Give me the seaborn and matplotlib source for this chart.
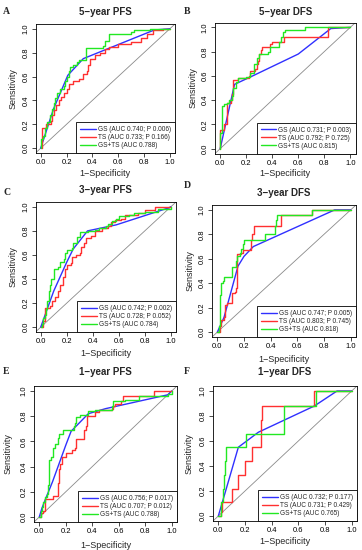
import numpy as np
import pandas as pd
import matplotlib
matplotlib.use("Agg")
import matplotlib.pyplot as plt
import seaborn as sns

# ---------------- data ----------------
titles = ["5\u2212year PFS", "5\u2212year DFS", "3\u2212year PFS",
          "3\u2212year DFS", "1\u2212year PFS", "1\u2212year DFS"]
letters = ["A", "B", "C", "D", "E", "F"]
series_names = ["GS", "TS", "GS+TS"]

labels_a = ["GS (AUC 0.740; P 0.006)", "TS (AUC 0.733; P 0.166)", "GS+TS (AUC 0.788)"]
labels_b = ["GS (AUC 0.731; P 0.003)", "TS (AUC 0.792; P 0.725)", "GS+TS (AUC 0.815)"]
labels_c = ["GS (AUC 0.742; P 0.002)", "TS (AUC 0.728; P 0.052)", "GS+TS (AUC 0.784)"]
labels_d = ["GS (AUC 0.747; P 0.005)", "TS (AUC 0.803; P 0.745)", "GS+TS (AUC 0.818)"]
labels_e = ["GS (AUC 0.756; P 0.017)", "TS (AUC 0.707; P 0.012)", "GS+TS (AUC 0.788)"]
labels_f = ["GS (AUC 0.732; P 0.177)", "TS (AUC 0.731; P 0.429)", "GS+TS (AUC 0.765)"]

# Panel A
a_gs_x = [0, 0.10, 0.21, 0.33, 0.88, 1.0]
a_gs_y = [0, 0.33, 0.61, 0.75, 0.99, 1.0]
a_ts_x = [0, 0.01, 0.04, 0.08, 0.09, 0.10, 0.12, 0.14, 0.16, 0.18, 0.20, 0.22, 0.25, 0.30, 0.33,
          0.36, 0.37, 0.38, 0.42, 0.46, 0.50, 0.53, 0.60, 0.70, 0.78, 0.82, 0.87, 0.95, 1.0]
a_ts_y = [0, 0.17, 0.20, 0.23, 0.28, 0.32, 0.36, 0.40, 0.43, 0.46, 0.50, 0.54, 0.56, 0.58, 0.62,
          0.65, 0.70, 0.75, 0.78, 0.80, 0.83, 0.85, 0.87, 0.89, 0.92, 0.96, 0.99, 1.0, 1.0]
a_gt_x = [0, 0, 0.02, 0.03, 0.05, 0.07, 0.09, 0.10, 0.11, 0.13, 0.15, 0.18, 0.19, 0.20, 0.22,
          0.23, 0.25, 0.28, 0.30, 0.35, 0.48, 0.50, 0.53, 0.70, 0.72, 0.85, 1.0]
a_gt_y = [0, 0.08, 0.10, 0.17, 0.22, 0.28, 0.33, 0.38, 0.42, 0.46, 0.50, 0.52, 0.56, 0.60, 0.65,
          0.68, 0.70, 0.72, 0.74, 0.84, 0.86, 0.90, 0.96, 0.97, 0.99, 1.0, 1.0]

# Panel B
b_gs_x = [0, 0.11, 0.25, 0.60, 0.85, 1.0]
b_gs_y = [0, 0.53, 0.60, 0.78, 0.99, 1.0]
b_ts_x = [0, 0.0, 0.03, 0.05, 0.08, 0.09, 0.10, 0.14, 0.22, 0.23, 0.27, 0.28, 0.29, 0.30,
          0.31, 0.32, 0.38, 0.40, 0.48, 0.49, 0.83, 1.0]
b_ts_y = [0, 0.15, 0.20, 0.38, 0.40, 0.45, 0.57, 0.58, 0.60, 0.64, 0.66, 0.70, 0.72, 0.78,
          0.81, 0.84, 0.86, 0.88, 0.88, 0.92, 1.0, 1.0]
b_gt_x = [0, 0.0, 0.01, 0.03, 0.05, 0.07, 0.09, 0.10, 0.12, 0.14, 0.20, 0.23, 0.26, 0.28,
          0.30, 0.37, 0.38, 0.45, 0.47, 0.48, 0.50, 0.65, 1.0]
b_gt_y = [0, 0.13, 0.35, 0.37, 0.38, 0.40, 0.43, 0.50, 0.55, 0.58, 0.59, 0.62, 0.70, 0.75,
          0.78, 0.80, 0.84, 0.88, 0.92, 0.96, 0.98, 1.0, 1.0]

# Panel C
c_gs_x = [0, 0.10, 0.20, 0.25, 0.36, 0.58, 0.98, 1.0]
c_gs_y = [0, 0.30, 0.54, 0.65, 0.80, 0.85, 0.99, 1.0]
c_ts_x = [0, 0.02, 0.03, 0.07, 0.09, 0.11, 0.13, 0.15, 0.17, 0.19, 0.20, 0.23, 0.24, 0.27,
          0.30, 0.31, 0.33, 0.35, 0.39, 0.42, 0.47, 0.52, 0.54, 0.57, 0.62, 0.65, 0.75, 0.80,
          0.88, 1.0]
c_ts_y = [0, 0.05, 0.16, 0.18, 0.22, 0.25, 0.30, 0.35, 0.42, 0.48, 0.52, 0.53, 0.58, 0.60,
          0.62, 0.67, 0.70, 0.74, 0.76, 0.80, 0.82, 0.84, 0.87, 0.89, 0.90, 0.93, 0.95, 0.97,
          1.0, 1.0]
c_gt_x = [0, 0.01, 0.02, 0.03, 0.04, 0.05, 0.06, 0.07, 0.08, 0.10, 0.13, 0.15, 0.18, 0.19,
          0.20, 0.24, 0.25, 0.28, 0.30, 0.36, 0.42, 0.45, 0.50, 0.52, 0.55, 0.58, 0.60, 0.68,
          0.72, 0.80, 0.90, 1.0]
c_gt_y = [0, 0.03, 0.08, 0.10, 0.15, 0.22, 0.30, 0.35, 0.40, 0.48, 0.50, 0.54, 0.57, 0.62,
          0.64, 0.66, 0.70, 0.75, 0.79, 0.80, 0.81, 0.82, 0.84, 0.86, 0.88, 0.90, 0.92, 0.93,
          0.95, 0.96, 0.98, 1.0]

# Panel D
d_gs_x = [0, 0.05, 0.10, 0.155, 0.20, 0.27, 0.88, 1.0]
d_gs_y = [0, 0.12, 0.32, 0.54, 0.62, 0.70, 1.0, 1.0]
d_ts_x = [0, 0.02, 0.03, 0.05, 0.06, 0.07, 0.10, 0.11, 0.13, 0.14, 0.145, 0.15, 0.18, 0.19,
          0.24, 0.25, 0.26, 0.275, 0.48, 0.71, 1.0]
d_ts_y = [0, 0.05, 0.10, 0.12, 0.22, 0.24, 0.24, 0.32, 0.33, 0.36, 0.56, 0.64, 0.65, 0.67,
          0.67, 0.75, 0.80, 0.87, 0.96, 1.0, 1.0]
d_gt_x = [0, 0.01, 0.02, 0.03, 0.04, 0.05, 0.11, 0.14, 0.15, 0.17, 0.18, 0.19, 0.20, 0.36,
          0.43, 0.44, 0.45, 0.71, 1.0]
d_gt_y = [0, 0.05, 0.30, 0.40, 0.42, 0.45, 0.53, 0.58, 0.62, 0.65, 0.68, 0.72, 0.75, 0.80,
          0.87, 0.92, 0.96, 1.0, 1.0]

# Panel E
e_gs_x = [0, 0.02, 0.05, 0.10, 0.20, 0.24, 0.37, 0.50, 0.97, 1.0]
e_gs_y = [0, 0.07, 0.15, 0.28, 0.57, 0.68, 0.82, 0.86, 0.97, 1.0]
e_ts_x = [0, 0.01, 0.03, 0.04, 0.10, 0.14, 0.15, 0.16, 0.17, 0.20, 0.25, 0.27, 0.28, 0.34,
          0.35, 0.36, 0.42, 0.45, 0.55, 0.56, 0.57, 0.62, 0.63, 0.87, 1.0]
e_ts_y = [0, 0.03, 0.05, 0.14, 0.17, 0.27, 0.38, 0.42, 0.48, 0.51, 0.53, 0.55, 0.62, 0.69,
          0.72, 0.80, 0.83, 0.85, 0.86, 0.88, 0.90, 0.92, 0.96, 1.0, 1.0]
e_gt_x = [0, 0.01, 0.02, 0.03, 0.04, 0.06, 0.065, 0.07, 0.075, 0.09, 0.10, 0.12, 0.14, 0.15,
          0.18, 0.26, 0.27, 0.28, 0.31, 0.37, 0.42, 0.55, 0.56, 0.65, 0.75, 0.97, 1.0]
e_gt_y = [0, 0.05, 0.08, 0.12, 0.16, 0.18, 0.25, 0.35, 0.45, 0.48, 0.55, 0.58, 0.63, 0.66,
          0.69, 0.72, 0.75, 0.79, 0.81, 0.84, 0.85, 0.88, 0.92, 0.93, 0.96, 0.98, 1.0]

# Panel F
f_gs_x = [0, 0.15, 0.30, 0.72, 0.89, 1.0]
f_gs_y = [0, 0.55, 0.67, 0.88, 1.0, 1.0]
f_ts_x = [0, 0.02, 0.03, 0.10, 0.15, 0.20, 0.25, 0.32, 0.33, 0.72, 1.0]
f_ts_y = [0, 0.03, 0.11, 0.22, 0.33, 0.44, 0.55, 0.77, 0.88, 1.0, 1.0]
f_gt_x = [0, 0.02, 0.035, 0.04, 0.05, 0.06, 0.21, 0.49, 0.73, 1.0]
f_gt_y = [0, 0.11, 0.22, 0.33, 0.44, 0.55, 0.66, 0.88, 1.0, 1.0]

panels = [
    (a_gs_x, a_gs_y, a_ts_x, a_ts_y, a_gt_x, a_gt_y, labels_a),
    (b_gs_x, b_gs_y, b_ts_x, b_ts_y, b_gt_x, b_gt_y, labels_b),
    (c_gs_x, c_gs_y, c_ts_x, c_ts_y, c_gt_x, c_gt_y, labels_c),
    (d_gs_x, d_gs_y, d_ts_x, d_ts_y, d_gt_x, d_gt_y, labels_d),
    (e_gs_x, e_gs_y, e_ts_x, e_ts_y, e_gt_x, e_gt_y, labels_e),
    (f_gs_x, f_gs_y, f_ts_x, f_ts_y, f_gt_x, f_gt_y, labels_f),
]

# ---------------- layout (pixels) ----------------
W, H = 362, 550
# axes boxes: left, top, right, bottom
boxes = [(35.5, 24, 175, 153), (215, 22.5, 355.5, 153.5),
         (35.5, 202, 176, 332), (212, 205, 356, 337),
         (34, 386, 177, 522), (213, 386, 357, 521)]
title_y = [12, 12, 190, 193, 372, 372]
letter_pos = [(3, 12), (184, 12), (3, 193), (184, 186), (3, 372), (184, 372)]
xlabel_y = [174, 174, 354, 360, 545, 541]
ylabel_x = [13, 193, 13, 190, 8, 189]

colors = ["#3030ff", "#ff3030", "#22e822"]

sns.set_style("ticks")
plt.rcParams["font.family"] = ["Liberation Sans", "DejaVu Sans"]

fig = plt.figure(figsize=(W / 100, H / 100), dpi=100)

ticks = [0.0, 0.2, 0.4, 0.6, 0.8, 1.0]
tick_labels = ["0.0", "0.2", "0.4", "0.6", "0.8", "1.0"]

for i, (gx, gy, tx, ty, cx, cy, labs) in enumerate(panels):
    l, t, r, b = boxes[i]
    ax = fig.add_axes([l / W, 1 - b / H, (r - l) / W, (b - t) / H])
    ax.plot([-0.04, 1.04], [-0.04, 1.04], color="#8a8a8a", lw=0.6, zorder=1)
    df_gs = pd.DataFrame({"fpr": gx, "tpr": gy})
    df_ts = pd.DataFrame({"fpr": tx, "tpr": ty})
    df_gt = pd.DataFrame({"fpr": cx, "tpr": cy})
    sns.lineplot(data=df_gs, x="fpr", y="tpr", ax=ax, color=colors[0], lw=1.0,
                 sort=False, estimator=None, label=labs[0])
    sns.lineplot(data=df_ts, x="fpr", y="tpr", ax=ax, color=colors[1], lw=1.0,
                 sort=False, estimator=None, drawstyle="steps-post", label=labs[1])
    sns.lineplot(data=df_gt, x="fpr", y="tpr", ax=ax, color=colors[2], lw=1.0,
                 sort=False, estimator=None, drawstyle="steps-post", label=labs[2])
    ax.set_xlim(-0.04, 1.04)
    ax.set_ylim(-0.04, 1.04)
    ax.set_xticks(ticks)
    ax.set_xticklabels(tick_labels)
    ax.set_yticks(ticks)
    ax.set_yticklabels(tick_labels, rotation=90, va="center")
    ax.tick_params(direction="out", length=3, width=0.5, labelsize=5.5, pad=1.5, colors="black")
    ax.set_xlabel("")
    ax.set_ylabel("")
    for s in ax.spines.values():
        s.set_visible(True)
        s.set_linewidth(0.6)
        s.set_color("black")
    leg = ax.legend(loc="lower right", fontsize=4.7, frameon=True, fancybox=False,
                    edgecolor="black", framealpha=1, borderaxespad=0, borderpad=0.6,
                    labelspacing=0.15, handlelength=2.4, handletextpad=0.35)
    leg.get_frame().set_linewidth(0.6)

    cxp = (l + r) / 2
    fig.text(cxp / W, 1 - title_y[i] / H, titles[i], ha="center", va="center",
             fontsize=7, fontweight="bold")
    lx, ly = letter_pos[i]
    fig.text(lx / W, 1 - ly / H, letters[i], ha="left", va="center", fontsize=7,
             fontweight="bold", family=["Liberation Serif", "DejaVu Serif"])
    fig.text(cxp / W, 1 - xlabel_y[i] / H, "1\u2212Specificity", ha="center", va="center",
             fontsize=6.5)
    fig.text(ylabel_x[i] / W, 1 - ((t + b) / 2) / H, "Sensitivity", ha="center", va="center",
             fontsize=6.5, rotation=90)

fig.savefig("out.png", dpi=100)
